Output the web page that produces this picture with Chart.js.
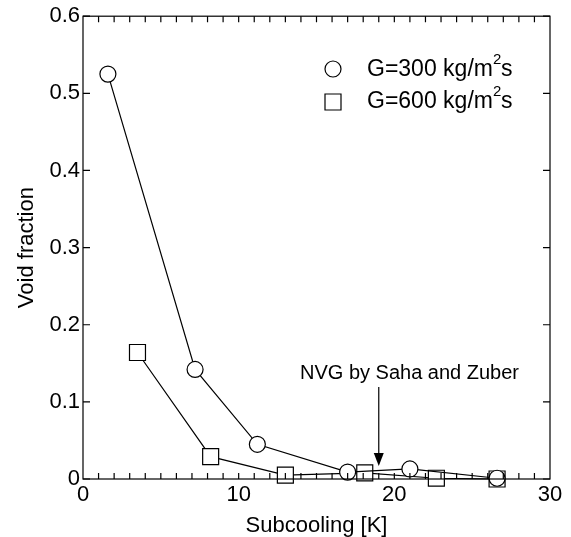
<!DOCTYPE html>
<html>
<head>
<meta charset="utf-8">
<script src="https://cdn.jsdelivr.net/npm/chart.js@4.4.1/dist/chart.umd.min.js"></script>
<style>
  html, body { margin: 0; padding: 0; background: #fff; }
  #wrap { width: 571px; height: 537px; }
</style>
</head>
<body>
<div id="wrap"><canvas id="myChart"></canvas></div>
<script>
// data
var subcool300 = [1.6, 7.2, 11.2, 17.0, 21.0, 26.6];
var void300 = [0.525, 0.142, 0.045, 0.009, 0.013, 0.001];
var subcool600 = [3.5, 8.2, 13.0, 18.1, 22.7, 26.6];
var void600 = [0.164, 0.029, 0.005, 0.008, 0.001, 0.0];
var xTicks = [0, 10, 20, 30];
var yTicks = [0, 0.1, 0.2, 0.3, 0.4, 0.5, 0.6];
var legendLabels = ['G=300 kg/m', 'G=600 kg/m'];
var nvgSubcool = 19.0;
var nvgText = 'NVG by Saha and Zuber';

var FONT = '"Liberation Sans", Arial, sans-serif';

function toPoints(xs, ys) {
  return xs.map(function (x, i) { return { x: x, y: ys[i] }; });
}

// box, inward ticks, legend and arrow note
var extras = {
  id: 'extras',
  afterDraw: function (chart) {
    var ctx = chart.ctx, a = chart.chartArea;
    var xs = chart.scales.x, ys = chart.scales.y;
    ctx.save();
    ctx.strokeStyle = '#000';
    ctx.lineWidth = 1.2;
    ctx.strokeRect(a.left, a.top, a.right - a.left, a.bottom - a.top);
    ctx.beginPath();
    for (var v = 1; v < 30; v++) {
      var px = xs.getPixelForValue(v);
      ctx.moveTo(px, a.bottom); ctx.lineTo(px, a.bottom - 6);
      ctx.moveTo(px, a.top); ctx.lineTo(px, a.top + 6);
    }
    yTicks.forEach(function (t) {
      var py = ys.getPixelForValue(t);
      ctx.moveTo(a.left, py); ctx.lineTo(a.left + 7, py);
      ctx.moveTo(a.right, py); ctx.lineTo(a.right - 7, py);
    });
    ctx.stroke();

    // legend
    var rows = [[69, 76], [102, 108]];
    rows.forEach(function (r, i) {
      ctx.beginPath();
      if (i === 0) ctx.arc(333, r[0], 8, 0, Math.PI * 2);
      else ctx.rect(325, r[0] - 8, 16, 16);
      ctx.fillStyle = '#fff'; ctx.fill();
      ctx.stroke();
      ctx.fillStyle = '#000';
      ctx.textAlign = 'left';
      ctx.textBaseline = 'alphabetic';
      ctx.font = '23px ' + FONT;
      var tx = 367, base = r[1];
      ctx.fillText(legendLabels[i], tx, base);
      var w = ctx.measureText(legendLabels[i]).width;
      ctx.font = '15px ' + FONT;
      ctx.fillText('2', tx + w, base - 12);
      ctx.font = '23px ' + FONT;
      ctx.fillText('s', tx + w + 8, base);
    });

    // arrow
    var ax = xs.getPixelForValue(nvgSubcool);
    ctx.font = '20px ' + FONT;
    ctx.textAlign = 'left';
    ctx.fillText(nvgText, 300, 379);
    ctx.beginPath();
    ctx.moveTo(ax, 387); ctx.lineTo(ax, 455);
    ctx.stroke();
    ctx.beginPath();
    ctx.moveTo(ax - 5, 453); ctx.lineTo(ax + 5, 453); ctx.lineTo(ax, 466); ctx.closePath();
    ctx.fill();
    ctx.restore();
  }
};

var chart = new Chart(document.getElementById('myChart').getContext('2d'), {
  type: 'scatter',
  data: {
    datasets: [{
      label: 'G=300',
      data: toPoints(subcool300, void300),
      showLine: true,
      clip: false,
      borderColor: '#000',
      borderWidth: 1.2,
      pointStyle: 'circle',
      pointRadius: 8,
      pointBackgroundColor: '#fff',
      pointBorderColor: '#000',
      pointBorderWidth: 1.2
    }, {
      label: 'G=600',
      data: toPoints(subcool600, void600),
      showLine: true,
      clip: false,
      borderColor: '#000',
      borderWidth: 1.2,
      pointStyle: 'rect',
      pointRadius: 11.3,
      pointBackgroundColor: '#fff',
      pointBorderColor: '#000',
      pointBorderWidth: 1.2
    }]
  },
  options: {
    responsive: true,
    maintainAspectRatio: false,
    animation: false,
    layout: { padding: { top: 15, right: 21, left: 0, bottom: 0 } },
    plugins: { legend: { display: false }, tooltip: { enabled: false } },
    scales: {
      x: {
        type: 'linear', min: 0, max: 30,
        afterBuildTicks: function (s) { s.ticks = xTicks.map(function (v) { return { value: v }; }); },
        afterFit: function (s) { s.height = 58; },
        grid: { display: false, drawTicks: false },
        border: { display: false },
        ticks: { color: '#000', padding: 3, maxRotation: 0, font: { family: 'Liberation Sans', size: 22 } },
        title: { display: true, text: 'Subcooling [K]', color: '#000', padding: { top: 0, bottom: 0 },
          font: { family: 'Liberation Sans', size: 22, lineHeight: 1 } }
      },
      y: {
        type: 'linear', min: 0, max: 0.6,
        afterBuildTicks: function (s) { s.ticks = yTicks.map(function (v) { return { value: v }; }); },
        afterFit: function (s) { s.width = 83; },
        grid: { display: false, drawTicks: false },
        border: { display: false },
        ticks: { color: '#000', padding: 3, font: { family: 'Liberation Sans', size: 22 },
          callback: function (v) { return v === 0 ? '0' : v.toFixed(1); } },
        title: { display: true, text: 'Void fraction', color: '#000', padding: { top: 14, bottom: 0 },
          font: { family: 'Liberation Sans', size: 22 } }
      }
    }
  },
  plugins: [extras]
});
</script>
</body>
</html>
